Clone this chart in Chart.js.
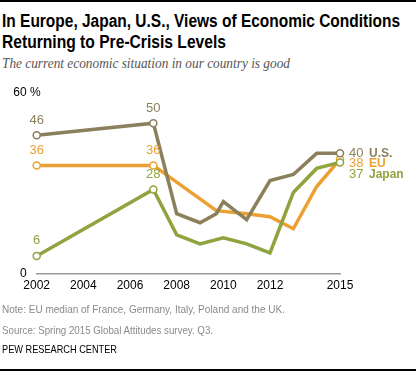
<!DOCTYPE html>
<html>
<head>
<meta charset="utf-8">
<script src="https://cdn.jsdelivr.net/npm/chart.js@4/dist/chart.umd.min.js"></script>
<style>
  html, body { margin: 0; padding: 0; background: #fff; }
  #wrap { position: relative; width: 416px; height: 372px; overflow: hidden; background: #fff; }
  #c { position: absolute; left: 0; top: 0; }
  .t { position: absolute; white-space: nowrap; transform-origin: 0 0; display: inline-block; }
  #topline { position: absolute; left: 0; top: 0; width: 416px; height: 2px; background: #000; }
  #botline { position: absolute; left: 0; top: 369px; width: 416px; height: 2px; background: #000; }
  .title { left: 2px; font-family: "Liberation Sans", Arial, sans-serif; font-weight: bold; font-size: 17.5px; line-height: 20px; color: #000; }
  #sub { left: 2px; top: 56px; font-family: "Liberation Serif", "DejaVu Serif", serif; font-style: italic; font-size: 14px; color: #555; }
  .foot { left: 2px; font-family: "Liberation Sans", Arial, sans-serif; font-size: 11.5px; color: #8a8a8a; }
  #pew { left: 2px; top: 343px; font-family: "Liberation Sans", Arial, sans-serif; font-size: 11px; color: #000; }
</style>
</head>
<body>
<div id="wrap">
  <div id="topline"></div>
  <div class="t title" style="top:11px" data-w="398">In Europe, Japan, U.S., Views of Economic Conditions</div>
  <div class="t title" style="top:32px" data-w="224">Returning to Pre-Crisis Levels</div>
  <div id="sub" class="t" data-w="288">The current economic situation in our country is good</div>
  <canvas id="c" width="416" height="372"></canvas>
  <div class="t foot" style="top:303px" data-w="283">Note: EU median of France, Germany, Italy, Poland and the UK.</div>
  <div class="t foot" style="top:324px" data-w="211">Source: Spring 2015 Global Attitudes survey. Q3.</div>
  <div id="pew" class="t" data-w="115">PEW RESEARCH CENTER</div>
  <div id="botline"></div>
</div>
<script>
// ---- data ----
const usYears    = [2002, 2007, 2008, 2009, 2009.7, 2010, 2011, 2012, 2013, 2014, 2015];
const usValues   = [46,   50,   20,   17,   20,     24,   18,   31,   33,   40,   40];
const euYears    = [2002, 2007, 2009.7, 2011, 2012, 2013, 2014, 2015];
const euValues   = [36,   36,   21,     20,   19,   15,   29,   38];
const japanYears = [2002, 2007, 2008, 2009, 2010, 2011, 2012, 2013, 2014, 2015];
const japanValues= [6,    28,   13,   10,   12,   10,   7,    27,   35,   37];
const seriesNames = ["U.S.", "EU", "Japan"];
const xTickLabels = [2002, 2004, 2006, 2008, 2010, 2012, 2015];
const yTickLabels = [0, 60];
const markerYears = [2002, 2007, 2015];
const labelYears  = [2002, 2007];

// fit static text blocks to the reference widths
document.querySelectorAll("[data-w]").forEach(el => {
  const w = el.getBoundingClientRect().width;
  const target = parseFloat(el.dataset.w);
  if (w > 0) el.style.transform = "scaleX(" + (target / w) + ")";
});

const colors = { "U.S.": "#8c7f5c", "EU": "#eca031", "Japan": "#8fa33f" };
const FONT = '"Liberation Sans", Arial, sans-serif';

function pts(xs, ys) { return xs.map((x, i) => ({ x: x, y: ys[i] })); }

function makeDataset(name, xs, ys) {
  const col = colors[name];
  return {
    label: name,
    data: pts(xs, ys),
    borderColor: col,
    backgroundColor: col,
    borderWidth: 3.5,
    tension: 0,
    clip: false,
    pointRadius: c => markerYears.includes(c.raw && c.raw.x) ? 3.5 : 0,
    pointHoverRadius: 0,
    pointBackgroundColor: "#fff",
    pointBorderColor: col,
    pointBorderWidth: 1.5
  };
}

const labelPlugin = {
  id: "labels",
  afterDatasetsDraw(chart) {
    const ctx = chart.ctx;
    const ys = chart.scales.y;
    ctx.save();
    // y-axis labels
    ctx.font = "12px " + FONT;
    ctx.fillStyle = "#000";
    ctx.textBaseline = "middle";
    yTickLabels.forEach(v => {
      const y = ys.getPixelForValue(v);
      ctx.textAlign = "right";
      ctx.fillText(String(v), chart.chartArea.left - 10, y);
      if (v === yTickLabels[yTickLabels.length - 1]) {
        ctx.textAlign = "left";
        ctx.fillText(" %", chart.chartArea.left - 10, y);
      }
    });
    // value labels at start points
    ctx.font = "13px " + FONT;
    ctx.textAlign = "center";
    ctx.textBaseline = "middle";
    chart.data.datasets.forEach((ds, di) => {
      const meta = chart.getDatasetMeta(di);
      ds.data.forEach((p, i) => {
        if (labelYears.includes(p.x)) {
          const el = meta.data[i];
          ctx.fillStyle = ds.borderColor;
          ctx.fillText(String(p.y), el.x, el.y - 15);
        }
      });
    });
    // end labels
    const ends = chart.data.datasets.map((ds, di) => {
      const meta = chart.getDatasetMeta(di);
      const last = meta.data[meta.data.length - 1];
      return { name: ds.label, val: ds.data[ds.data.length - 1].y, x: last.x, y: last.y, col: ds.borderColor };
    }).sort((a, b) => a.y - b.y);
    for (let i = 1; i < ends.length; i++) {
      if (ends[i].y < ends[i - 1].y + 10.5) ends[i].y = ends[i - 1].y + 10.5;
    }
    ctx.textAlign = "left";
    ends.forEach(e => {
      ctx.fillStyle = e.col;
      ctx.font = "13px " + FONT;
      ctx.fillText(String(e.val), e.x + 9, e.y);
      ctx.font = "bold 12px " + FONT;
      ctx.fillText(e.name, e.x + 29, e.y);
    });
    ctx.restore();
  }
};

new Chart(document.getElementById("c"), {
  type: "line",
  data: {
    datasets: [
      makeDataset("U.S.", usYears, usValues),
      makeDataset("Japan", japanYears, japanValues),
      makeDataset("EU", euYears, euValues)
    ]
  },
  options: {
    responsive: false,
    animation: false,
    events: [],
    layout: { padding: { left: 36.7, right: 76, top: 93, bottom: 75.6 } },
    plugins: { legend: { display: false }, tooltip: { enabled: false } },
    scales: {
      x: {
        type: "linear",
        min: 2002, max: 2015,
        grid: { display: false, drawTicks: false },
        border: { display: true, color: "#9a9a9a", width: 1.5 },
        afterBuildTicks: s => { s.ticks = xTickLabels.map(v => ({ value: v })); },
        ticks: {
          autoSkip: false, maxRotation: 0, padding: 4, color: "#000",
          font: { family: FONT, size: 12 },
          callback: v => String(v)
        }
      },
      y: { display: false, min: 0, max: 60 }
    }
  },
  plugins: [labelPlugin]
});
</script>
</body>
</html>
